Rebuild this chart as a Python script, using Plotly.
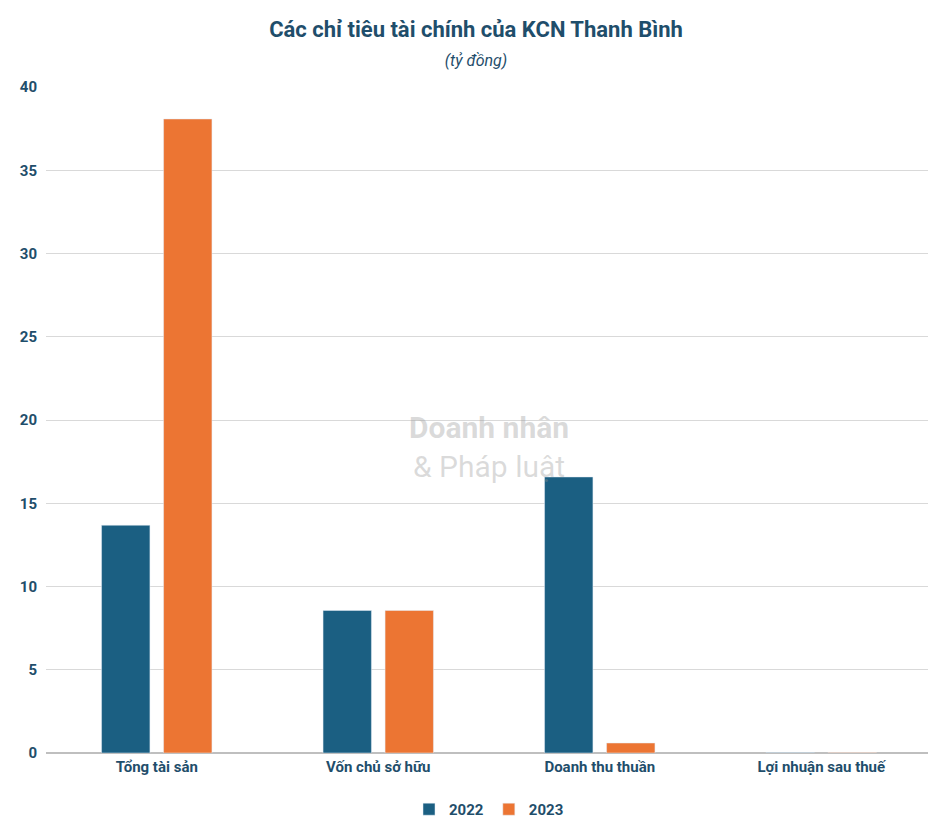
import plotly.graph_objects as go

categories = ["Tổng tài sản", "Vốn chủ sở hữu", "Doanh thu thuần", "Lợi nhuận sau thuế"]
values_2022 = [13.68, 8.56, 16.58, 0.02]
values_2023 = [38.08, 8.56, 0.6, 0.03]

fig = go.Figure()
fig.add_trace(go.Bar(x=categories, y=values_2022, name="<b>2022</b>", marker_color="#1B5F82"))
fig.add_trace(go.Bar(x=categories, y=values_2023, name="<b>2023</b>", marker_color="#EC7533"))

fig.update_layout(
    width=936, height=833,
    paper_bgcolor="white", plot_bgcolor="white",
    font=dict(family="Roboto", color="#1F4E6B"),
    title=dict(text="<b>Các chỉ tiêu tài chính của KCN Thanh Bình</b><br><span style='font-size:16px'><i>(tỷ đồng)</i></span>",
               x=0.5, y=0.965, xanchor="center", font=dict(size=22, color="#1F4E6B")),
    margin=dict(l=36, r=12, t=79, b=88),
    bargap=0.44, bargroupgap=0.22,
    yaxis=dict(range=[0, 40], dtick=5, gridcolor="#D9D9D9", zeroline=True, zerolinecolor="#BFBFBF",
               tickfont=dict(size=15, color="#1F4E6B", family="Roboto", weight="bold"), ticklabelstandoff=8,
               showline=False),
    xaxis=dict(tickfont=dict(size=15, color="#1F4E6B", family="Roboto", weight="bold"),
               showline=True, linecolor="#BFBFBF"),
    legend=dict(orientation="h", x=0.5, xanchor="center", y=-0.06, yanchor="top",
                font=dict(size=15, color="#1F4E6B")),
)
fig.add_annotation(text="<b>Doanh nhân</b><br>& Pháp luật", x=0.5, y=0.46, xref="paper", yref="paper",
                   showarrow=False, font=dict(size=30, color="rgba(150,150,150,0.35)"))
fig.write_html("out.html")
